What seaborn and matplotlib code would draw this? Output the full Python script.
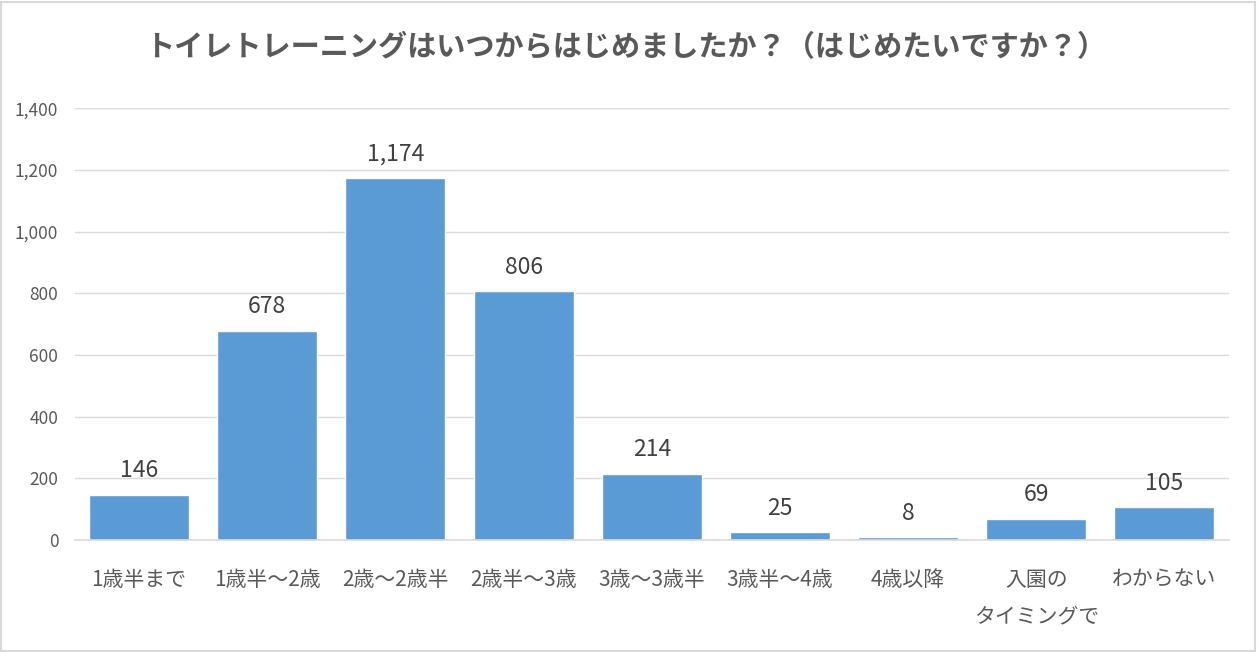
import matplotlib
matplotlib.use("Agg")
import matplotlib.pyplot as plt
import seaborn as sns
import pandas as pd
from matplotlib.patches import Rectangle

categories = ["1歳半まで", "1歳半～2歳", "2歳～2歳半", "2歳半～3歳", "3歳～3歳半",
              "3歳半～4歳", "4歳以降", "入園の\nタイミングで", "わからない"]
values = [146, 678, 1174, 806, 214, 25, 8, 69, 105]
yticks = [0, 200, 400, 600, 800, 1000, 1200, 1400]
title = "トイレトレーニングはいつからはじめましたか？（はじめたいですか？）"

sns.set_theme(style="white")
plt.rcParams['font.family'] = ['Noto Sans CJK JP', 'DejaVu Sans']

df = pd.DataFrame({"cat": categories, "val": values})

fig = plt.figure(figsize=(12.58, 6.52), dpi=100)
ax = fig.add_axes([0.0596, 0.172, 0.917, 0.662])
sns.barplot(data=df, x="cat", y="val", color="#5B9BD5", saturation=1, width=0.78, ax=ax)

ax.set_ylim(0, 1400)
ax.set_yticks(yticks)
ax.set_yticklabels([f"{v:,}" for v in yticks], color="#595959", fontsize=12.5)
ax.yaxis.grid(True, color="#D9D9D9", linewidth=1)
ax.set_axisbelow(True)
ax.tick_params(axis="x", colors="#595959", labelsize=15, length=0, pad=21)
ax.tick_params(axis="y", length=0, pad=12)
for lbl in ax.get_xticklabels():
    lbl.set_linespacing(1.85)
    lbl.set_verticalalignment("top")
ax.set_xlabel("")
ax.set_ylabel("")
for s in ["top", "right", "left"]:
    ax.spines[s].set_visible(False)
ax.spines["bottom"].set_color("#D9D9D9")
ax.spines["bottom"].set_linewidth(1.2)
ax.set_xlim(-0.5, len(categories) - 0.5)

for i, v in enumerate(values):
    ax.annotate(f"{v:,}", (i, v), xytext=(0, 9), textcoords="offset points",
                ha="center", va="bottom", fontsize=16.5, color="#404040")

fig.text(0.497, 0.928, title, ha="center", va="center", fontsize=21,
         fontweight="bold", color="#595959")

fig.patches.append(Rectangle((0.001, 0.002), 0.997, 0.995, transform=fig.transFigure,
                             fill=False, edgecolor="#D9D9D9", linewidth=1.5))

fig.savefig("out.png", dpi=100)
